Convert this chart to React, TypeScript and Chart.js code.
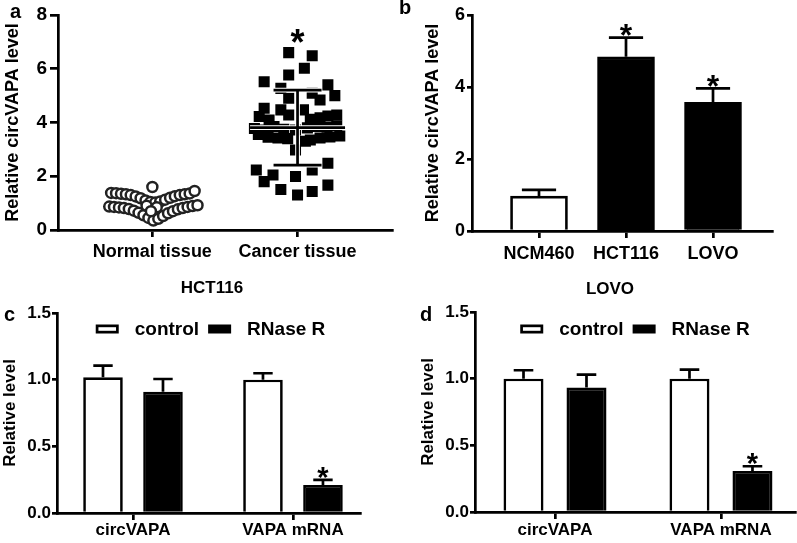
import React, { useEffect, useRef } from 'react';
import { Chart, registerables } from 'chart.js';

Chart.register(...registerables);

const FONT = "'Liberation Sans', Arial, Helvetica, sans-serif";
const LW = 2.7;
Chart.defaults.font.family = FONT;
Chart.defaults.font.weight = 'bold';
Chart.defaults.color = '#000';

// ---------- Panel a: scatter dot plot ----------
const scatterCategories = ['Normal tissue', 'Cancer tissue'];
const normalOffsets = [
  -0.284, -0.25, -0.216, -0.182, -0.149, -0.115, -0.081, -0.047, -0.014, 0.02, 0.054, 0.088, 0.122, 0.155, 0.189, 0.223, 0.257, 0.291,
  -0.297, -0.264, -0.23, -0.196, -0.162, -0.128, -0.095, -0.061, -0.027, 0.007, 0.041, 0.074, 0.108, 0.142, 0.176, 0.209, 0.243, 0.277, 0.311,
  -0.04, 0.03, -0.01, 0.0,
];
const normalValues = [
  1.38, 1.37, 1.35, 1.33, 1.3, 1.25, 1.18, 1.1, 1.04, 1.02, 1.06, 1.13, 1.2, 1.26, 1.3, 1.33, 1.36, 1.45,
  0.87, 0.86, 0.84, 0.82, 0.78, 0.72, 0.64, 0.55, 0.45, 0.35, 0.42, 0.52, 0.62, 0.7, 0.77, 0.82, 0.86, 0.89, 0.92,
  0.9, 0.85, 0.7, 1.6,
];
const cancerOffsets = [
  -0.061, 0.101, 0.047, -0.061, -0.23, -0.115, 0.209, 0.101, 0.155, -0.061, 0.257,
  -0.23, -0.115, 0.041, -0.264, -0.196, -0.061, 0.088, 0.155, 0.209, 0.27,
  -0.297, -0.23, -0.162, -0.095, -0.014, 0.068, 0.135, 0.203, 0.27,
  -0.27, -0.203, -0.135, -0.068, 0.088, 0.155, 0.223, 0.291,
  -0.014, 0.054, -0.284, -0.169, -0.23, -0.014, 0.101, 0.209, -0.115, 0.0, 0.101, 0.209,
];
const cancerValues = [
  6.6, 6.48, 6.02, 5.77, 5.52, 5.27, 5.4, 5.09, 4.84, 4.9, 5.0,
  4.53, 4.47, 4.47, 4.22, 4.09, 4.28, 4.12, 4.18, 4.24, 4.28,
  3.78, 3.72, 3.85, 3.75, 3.72, 3.8, 3.85, 3.82, 3.88,
  3.55, 3.45, 3.42, 3.4, 3.35, 3.42, 3.46, 3.5,
  2.98, 3.3, 2.23, 2.05, 1.8, 1.99, 2.23, 2.48, 1.51, 1.3, 1.43, 1.67,
];
const scatterMeans = [null, 3.81];
const scatterSDs = [null, 1.395];
const scatterStars = [false, true];

// ---------- Panel b ----------
const cellLines = ['NCM460', 'HCT116', 'LOVO'];
const cellValues = [0.97, 4.84, 3.575];
const cellErrors = [0.17, 0.53, 0.385];
const cellStars = [false, true, true];

// ---------- Panels c & d ----------
const rnaCategories = ['circVAPA', 'VAPA mRNA'];
const seriesNames = ['control', 'RNase R'];
const hctControl = [1.018, 1.0];
const hctControlErr = [0.087, 0.048];
const hctRNase = [0.91, 0.21];
const hctRNaseErr = [0.095, 0.038];
const lovoControl = [1.0, 1.0];
const lovoControlErr = [0.063, 0.068];
const lovoRNase = [0.933, 0.307];
const lovoRNaseErr = [0.097, 0.036];
const controlStars = [false, false];
const rnaseStars = [false, true];

const STAR_K = 0.553;

const errorBarPlugin = {
  id: 'errorBars',
  afterDatasetsDraw(chart: any, _a: any, opts: any) {
    const { ctx } = chart;
    const yScale = chart.scales.y;
    chart.data.datasets.forEach((ds: any, di: number) => {
      const meta = chart.getDatasetMeta(di);
      const errs = ds.errors || [];
      const stars = ds.stars || [];
      meta.data.forEach((el: any, i: number) => {
        const v = ds.data[i].y;
        const e = errs[i];
        if (e == null) return;
        const top = yScale.getPixelForValue(v + e);
        const barTop = yScale.getPixelForValue(v);
        const cap = el.width * opts.capRatio;
        ctx.save();
        ctx.strokeStyle = '#000';
        ctx.lineWidth = LW;
        ctx.beginPath();
        ctx.moveTo(el.x, barTop);
        ctx.lineTo(el.x, top);
        ctx.moveTo(el.x - cap / 2, top);
        ctx.lineTo(el.x + cap / 2, top);
        ctx.stroke();
        if (stars[i]) {
          ctx.fillStyle = '#000';
          ctx.font = `bold ${opts.starSize}px ${FONT}`;
          ctx.textAlign = 'center';
          ctx.textBaseline = 'alphabetic';
          ctx.fillText('*', el.x, top - opts.starGap + STAR_K * opts.starSize);
        }
        ctx.restore();
      });
    });
  },
};

const meanSdPlugin = {
  id: 'meanSd',
  afterDatasetsDraw(chart: any, _a: any, opts: any) {
    const { ctx } = chart;
    const xs = chart.scales.x;
    const ys = chart.scales.y;
    ctx.save();
    scatterMeans.forEach((m, g) => {
      const cx = xs.getPixelForValue(g);
      if (m != null) {
        const sd = scatterSDs[g] as number;
        const my = ys.getPixelForValue(m);
        const hi = ys.getPixelForValue(m + sd);
        const lo = ys.getPixelForValue(m - sd);
        const passes: [string, number][] = [['#fff', LW + 2], ['#000', LW]];
        for (const [color, w] of passes) {
          ctx.strokeStyle = color;
          ctx.lineWidth = w;
          ctx.beginPath();
          ctx.moveTo(cx - opts.meanHalf, my);
          ctx.lineTo(cx + opts.meanHalf, my);
          ctx.moveTo(cx, hi);
          ctx.lineTo(cx, lo);
          ctx.moveTo(cx - opts.capHalf, hi);
          ctx.lineTo(cx + opts.capHalf, hi);
          ctx.moveTo(cx - opts.capHalf, lo);
          ctx.lineTo(cx + opts.capHalf, lo);
          ctx.stroke();
        }
      }
      if (scatterStars[g]) {
        const vals = chart.data.datasets[g].data.map((p: any) => p.y);
        const topPx = ys.getPixelForValue(Math.max(...vals));
        ctx.fillStyle = '#000';
        ctx.font = `bold ${opts.starSize}px ${FONT}`;
        ctx.textAlign = 'center';
        ctx.textBaseline = 'alphabetic';
        ctx.fillText('*', cx, topPx - opts.starGap + STAR_K * opts.starSize);
      }
    });
    ctx.restore();
  },
};

const boxLegendPlugin = {
  id: 'boxLegend',
  afterDraw(chart: any, _a: any, opts: any) {
    const { ctx, chartArea } = chart;
    ctx.save();
    ctx.font = `bold ${opts.fontSize}px ${FONT}`;
    const bw = 23, bh = 9, gap = 16, sep = 9;
    const items = chart.data.datasets.map((ds: any) => ({
      label: ds.label,
      fill: ds.backgroundColor,
      w: bw + gap + ctx.measureText(ds.label).width,
    }));
    const total = items.reduce((s: number, it: any) => s + it.w, 0) + sep * (items.length - 1);
    let x = (chartArea.left + chartArea.right) / 2 - total / 2 + opts.shift;
    const cy = chartArea.top + opts.offsetY;
    items.forEach((it: any) => {
      ctx.fillStyle = '#000';
      ctx.fillRect(x, cy - bh / 2, bw, bh);
      if (it.fill !== '#000') {
        ctx.fillStyle = it.fill;
        ctx.fillRect(x + LW, cy - bh / 2 + LW, bw - 2 * LW, bh - 2 * LW);
      }
      ctx.fillStyle = '#000';
      ctx.textAlign = 'left';
      ctx.textBaseline = 'middle';
      ctx.fillText(it.label, x + bw + gap, cy + 1);
      x += it.w + sep;
    });
    ctx.restore();
  },
};

function yAxis(p: any) {
  return {
    type: 'linear',
    position: 'left',
    min: p.min,
    max: p.max,
    ticks: {
      stepSize: p.step,
      font: { size: p.fontSize, weight: 'bold' },
      color: '#000',
      padding: p.tickPad,
      callback: p.fmt || ((v: any) => String(v)),
    },
    grid: { drawOnChartArea: false, drawTicks: true, tickLength: p.tickLen, lineWidth: LW, color: '#000' },
    border: { display: true, width: LW, color: '#000' },
    title: {
      display: true,
      text: p.title,
      font: { size: p.titleSize, weight: 'bold' },
      color: '#000',
      padding: { top: p.titlePad, bottom: 0 },
    },
    afterFit: (s: any) => { s.width = p.width; },
  };
}

function xAxis(p: any) {
  return {
    type: 'linear',
    position: 'bottom',
    offset: false,
    min: p.min,
    max: p.max,
    afterBuildTicks: (s: any) => { s.ticks = p.cats.map((_: any, i: number) => ({ value: i })); },
    ticks: {
      autoSkip: false,
      maxRotation: 0,
      font: { size: p.fontSize, weight: 'bold' },
      color: '#000',
      padding: p.tickPad,
      callback: (v: any) => p.cats[v] ?? '',
    },
    grid: { offset: false, drawOnChartArea: false, drawTicks: true, tickLength: 7, lineWidth: LW, color: '#000' },
    border: { display: true, width: LW, color: '#000' },
    afterFit: (s: any) => { s.height = p.height; },
  };
}

const basePlugins = { legend: { display: false }, tooltip: { enabled: false } };

function configA(): any {
  return {
    type: 'scatter',
    data: {
      datasets: [
        {
          label: scatterCategories[0],
          data: normalOffsets.map((o, i) => ({ x: 0 + o, y: normalValues[i] })),
          pointStyle: 'circle',
          pointRadius: 5,
          borderWidth: 2.5,
          borderColor: '#222',
          backgroundColor: '#fff',
        },
        {
          label: scatterCategories[1],
          data: cancerOffsets.map((o, i) => ({ x: 1 + o, y: cancerValues[i] })),
          pointStyle: 'rect',
          pointRadius: 7.8,
          borderWidth: 0,
          backgroundColor: '#000',
        },
      ],
    },
    options: {
      animation: false,
      responsive: false,
      events: [],
      layout: { padding: { top: 15, left: 0, right: 2, bottom: 0 } },
      scales: {
        x: xAxis({ min: -0.65, max: 1.652, cats: scatterCategories, fontSize: 18, tickPad: 4.5, height: 40 }),
        y: yAxis({ min: 0, max: 8, step: 2, fontSize: 19, tickPad: 3, tickLen: 8, width: 58,
          title: 'Relative circVAPA level', titleSize: 18, titlePad: 2 }),
      },
      plugins: { ...basePlugins, meanSd: { meanHalf: 47.5, capHalf: 24, starSize: 36, starGap: 18 } },
    },
    plugins: [meanSdPlugin],
  };
}

function configB(): any {
  return {
    type: 'bar',
    data: {
      datasets: [
        {
          label: 'circVAPA',
          data: cellValues.map((v, i) => ({ x: i, y: v })),
          backgroundColor: ['#fff', '#000', '#000'],
          borderColor: '#000',
          borderWidth: LW,
          barThickness: 57,
          errors: cellErrors,
          stars: cellStars,
        },
      ],
    },
    options: {
      animation: false,
      responsive: false,
      events: [],
      layout: { padding: { top: 15, left: 0, right: 25, bottom: 0 } },
      scales: {
        x: xAxis({ min: -0.77, max: 2.678, cats: cellLines, fontSize: 18, tickPad: 5, height: 39 }),
        y: yAxis({ min: 0, max: 6, step: 2, fontSize: 18, tickPad: 2, tickLen: 5, width: 72,
          title: 'Relative circVAPA level', titleSize: 18, titlePad: 22 }),
      },
      plugins: { ...basePlugins, errorBars: { capRatio: 0.6, starSize: 32, starGap: 9.5 } },
    },
    plugins: [errorBarPlugin],
  };
}

function configRNase(p: any): any {
  return {
    type: 'bar',
    data: {
      datasets: [
        {
          label: seriesNames[0],
          data: p.control.map((v: number, i: number) => ({ x: i, y: v })),
          backgroundColor: '#fff',
          borderColor: '#000',
          borderWidth: LW,
          categoryPercentage: p.cp,
          barPercentage: p.bp,
          errors: p.controlErr,
          stars: controlStars,
        },
        {
          label: seriesNames[1],
          data: p.rnase.map((v: number, i: number) => ({ x: i, y: v })),
          backgroundColor: '#000',
          borderColor: '#000',
          borderWidth: LW,
          categoryPercentage: p.cp,
          barPercentage: p.bp,
          errors: p.rnaseErr,
          stars: rnaseStars,
        },
      ],
    },
    options: {
      animation: false,
      responsive: false,
      events: [],
      layout: { padding: p.padding },
      scales: {
        x: xAxis({ min: p.xmin, max: p.xmax, cats: rnaCategories, fontSize: 17, tickPad: p.xTickPad, height: p.xHeight }),
        y: yAxis({ min: 0, max: 1.5, step: 0.5, fontSize: 17, tickPad: 1, tickLen: 5, width: p.yWidth,
          title: 'Relative level', titleSize: 17, titlePad: p.yTitlePad,
          fmt: (v: any) => Number(v).toFixed(1) }),
        ...(p.dummyRight
          ? {
              r: {
                type: 'linear',
                position: 'right',
                display: true,
                grid: { display: false, drawTicks: false },
                border: { display: false },
                ticks: { display: false },
                afterFit: (s: any) => { s.width = p.dummyRight; },
              },
            }
          : {}),
      },
      plugins: {
        ...basePlugins,
        title: {
          display: true,
          text: p.title,
          font: { size: 17, weight: 'bold' },
          color: '#000',
          padding: p.titlePad,
        },
        boxLegend: { fontSize: 19, offsetY: p.legendY, shift: p.legendShift },
        errorBars: { capRatio: 0.49, starSize: 29, starGap: 9 },
      },
    },
    plugins: [errorBarPlugin, boxLegendPlugin],
  };
}

function ChartCanvas({ left, top, width, height, make }: any) {
  const ref = useRef<HTMLCanvasElement>(null);
  useEffect(() => {
    if (!ref.current) return;
    const chart = new Chart(ref.current, make());
    return () => chart.destroy();
  }, []);
  return (
    <canvas
      ref={ref}
      width={width}
      height={height}
      style={{ position: 'absolute', left, top, width, height }}
    />
  );
}

const letterStyle = (left: number, top: number): React.CSSProperties => ({
  position: 'absolute',
  left,
  top,
  fontFamily: FONT,
  fontWeight: 'bold',
  fontSize: 20,
  lineHeight: '20px',
  color: '#000',
});

export default function App() {
  return (
    <div style={{ position: 'absolute', left: 0, top: 0, width: 797, height: 543, background: '#fff', overflow: 'hidden' }}>
      <ChartCanvas left={0} top={0} width={400} height={270} make={configA} />
      <ChartCanvas left={400} top={0} width={397} height={270} make={configB} />
      <ChartCanvas
        left={0}
        top={270}
        width={430}
        height={273}
        make={() =>
          configRNase({
            control: hctControl, controlErr: hctControlErr, rnase: hctRNase, rnaseErr: hctRNaseErr,
            cp: 0.75, bp: 0.66, xmin: -0.475, xmax: 1.419, xTickPad: 0, xHeight: 30,
            padding: { left: 0, right: 6, top: 0, bottom: 0 }, yWidth: 57, yTitlePad: 0,
            dummyRight: 64, title: 'HCT116', titlePad: { top: 7.8, bottom: 14.8 },
            legendY: 16, legendShift: 2,
          })
        }
      />
      <ChartCanvas
        left={400}
        top={270}
        width={397}
        height={273}
        make={() =>
          configRNase({
            control: lovoControl, controlErr: lovoControlErr, rnase: lovoRNase, rnaseErr: lovoRNaseErr,
            cp: 0.759, bp: 0.635, xmin: -0.482, xmax: 1.446, xTickPad: 1, xHeight: 31,
            padding: { left: 25, right: 2, top: 0, bottom: 0 }, yWidth: 50, yTitlePad: -6.7,
            dummyRight: 0, title: 'LOVO', titlePad: { top: 9.3, bottom: 12.3 },
            legendY: 17, legendShift: 0,
          })
        }
      />
      <div style={letterStyle(10, 1)}>a</div>
      <div style={letterStyle(399, -3)}>b</div>
      <div style={letterStyle(4, 304)}>c</div>
      <div style={letterStyle(420, 304)}>d</div>
    </div>
  );
}
